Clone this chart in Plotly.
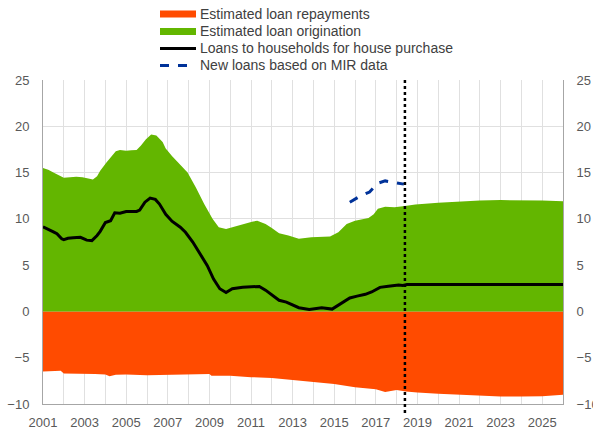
import plotly.graph_objects as go

# ---------------- data ----------------
orig_x = [2001.0, 2001.25, 2001.5, 2001.75, 2002.0, 2002.3, 2002.6, 2002.9, 2003.1, 2003.4,
          2003.6, 2003.75, 2004.05, 2004.3, 2004.5, 2004.7, 2005.0, 2005.25, 2005.5, 2005.7,
          2005.95, 2006.2, 2006.45, 2006.75, 2006.9, 2007.2, 2007.6, 2007.95, 2008.35, 2008.75,
          2009.15, 2009.45, 2009.8, 2010.1, 2010.4, 2010.75, 2011.05, 2011.3, 2011.7, 2012.0,
          2012.35, 2012.8, 2013.3, 2013.9, 2014.4, 2014.8, 2015.2, 2015.6, 2016.0, 2016.4,
          2016.65, 2016.9, 2017.1, 2017.45, 2017.9, 2018.4, 2018.9, 2020.0, 2021.0, 2022.0,
          2023.0, 2024.0, 2025.0, 2026.0]
orig_y = [15.5, 15.3, 15.0, 14.7, 14.45, 14.5, 14.55, 14.5, 14.4, 14.25,
          14.6, 15.2, 16.1, 16.8, 17.3, 17.45, 17.35, 17.4, 17.45, 17.9,
          18.6, 19.1, 19.0, 18.3, 17.6, 16.8, 15.9, 15.0, 13.4, 11.6,
          10.0, 9.1, 8.9, 9.1, 9.35, 9.55, 9.7, 9.8, 9.45, 9.0,
          8.45, 8.2, 7.85, 8.0, 8.1, 8.1, 8.55, 9.45, 9.8, 9.95,
          10.1, 10.5, 11.1, 11.3, 11.25, 11.4, 11.55, 11.75, 11.9, 11.98,
          12.03, 12.03, 11.98, 11.9]

repay_x = [2001.0, 2001.4, 2001.85, 2002.0, 2003.0, 2003.5, 2004.0, 2004.2, 2004.5, 2005.0,
           2006.0, 2007.0, 2008.0, 2009.0, 2009.1, 2010.0, 2011.0, 2012.0, 2013.0, 2014.0,
           2015.0, 2016.0, 2017.0, 2017.45, 2018.0, 2018.45, 2019.0, 2020.0, 2021.0, 2022.0,
           2023.0, 2024.0, 2025.0, 2026.0]
repay_y = [-6.5, -6.45, -6.4, -6.7, -6.7, -6.75, -6.8, -7.0, -6.85, -6.8,
           -6.9, -6.85, -6.85, -6.75, -6.95, -6.95, -7.1, -7.2, -7.4, -7.6,
           -7.85, -8.2, -8.4, -8.7, -8.5, -8.65, -8.77, -8.9, -9.0, -9.12,
           -9.18, -9.2, -9.15, -9.0]

loans_x = [2001.0, 2001.2, 2001.35, 2001.5, 2001.67, 2001.9, 2002.0, 2002.2, 2002.45, 2002.8,
           2003.0, 2003.1, 2003.35, 2003.6, 2003.75, 2004.0, 2004.25, 2004.45, 2004.7, 2005.0,
           2005.5, 2005.65, 2005.9, 2006.15, 2006.4, 2006.6, 2006.9, 2007.2, 2007.6, 2007.85,
           2008.2, 2008.5, 2008.9, 2009.2, 2009.5, 2009.8, 2010.1, 2010.6, 2011.05, 2011.4,
           2011.7, 2012.0, 2012.35, 2012.7, 2013.0, 2013.3, 2013.8, 2014.4, 2014.9, 2015.35,
           2015.75, 2016.1, 2016.5, 2016.8, 2017.2, 2017.6, 2018.1, 2018.3, 2018.5, 2026.0]
loans_y = [9.15, 8.9, 8.7, 8.6, 8.4, 7.85, 7.75, 7.9, 7.95, 8.0,
           7.8, 7.7, 7.65, 8.2, 8.65, 9.6, 9.8, 10.65, 10.6, 10.8,
           10.8, 10.95, 11.8, 12.25, 12.1, 11.6, 10.5, 9.75, 9.1, 8.55,
           7.5, 6.4, 4.95, 3.5, 2.45, 2.05, 2.45, 2.6, 2.7, 2.7,
           2.3, 1.75, 1.2, 1.0, 0.7, 0.4, 0.2, 0.4, 0.25, 0.9,
           1.45, 1.65, 1.85, 2.1, 2.6, 2.72, 2.85, 2.8, 2.9, 2.9]

mir_x = [2015.75, 2016.2, 2016.7, 2017.1, 2017.45, 2017.9, 2018.35]
mir_y = [11.8, 12.4, 12.9, 13.85, 14.1, 13.95, 13.75]

cutoff_year = 2018.4

year_ticks = list(range(2001, 2027))
year_labels = [str(y) if (y % 2 == 1 and y <= 2025) else "" for y in year_ticks]
y_ticks = [-10, -5, 0, 5, 10, 15, 20, 25]

legend_names = ["Estimated loan repayments", "Estimated loan origination",
                "Loans to households for house purchase", "New loans based on MIR data"]

# ---------------- styling ----------------
ORANGE = "#FF4B00"
GREEN = "#63B600"
BLUE = "#003299"
FONT = "Liberation Sans, Arial, sans-serif"
TICKC = "#595959"
GRID = "#e0e0e0"
AXC = "#a6a6a6"

W, H = 593, 429
ML, MR, MT, MB = 43, 30, 80, 25
PW, PH = W - ML - MR, H - MT - MB


def px_x(p):  # page pixel -> paper x
    return (p - ML) / PW


def px_y(p):  # page pixel -> paper y
    return (H - MB - p) / PH


fig = go.Figure()
fig.add_trace(go.Scatter(x=repay_x, y=repay_y, mode="lines", fill="tozeroy",
                         fillcolor=ORANGE, line=dict(width=0, color=ORANGE),
                         name=legend_names[0], showlegend=False, hoverinfo="skip"))
fig.add_trace(go.Scatter(x=orig_x, y=orig_y, mode="lines", fill="tozeroy",
                         fillcolor=GREEN, line=dict(width=0, color=GREEN),
                         name=legend_names[1], showlegend=False, hoverinfo="skip"))
fig.add_trace(go.Scatter(x=loans_x, y=loans_y, mode="lines",
                         line=dict(width=3, color="black"),
                         name=legend_names[2], showlegend=False))
fig.add_trace(go.Scatter(x=mir_x, y=mir_y, mode="lines", yaxis="y2",
                         line=dict(width=3, color=BLUE, dash="dash"),
                         name=legend_names[3], showlegend=False))

shapes = [
    dict(type="line", xref="x", yref="paper", x0=cutoff_year, x1=cutoff_year,
         y0=px_y(413), y1=1, line=dict(color="black", width=2.5, dash="dot"), layer="above"),
]

# manual legend
rows = [14, 31.5, 48.5, 65.5]
sx0, sx1, tx = 160, 196, 199
annotations = []
for i, (name, r) in enumerate(zip(legend_names, rows)):
    if i < 2:
        shapes.append(dict(type="rect", xref="paper", yref="paper",
                           x0=px_x(sx0), x1=px_x(sx1), y0=px_y(r + 3.5), y1=px_y(r - 3.5),
                           fillcolor=[ORANGE, GREEN][i], line=dict(width=0)))
    else:
        shapes.append(dict(type="line", xref="paper", yref="paper",
                           x0=px_x(sx0), x1=px_x(sx1), y0=px_y(r), y1=px_y(r),
                           line=dict(width=3, color=["black", BLUE][i - 2],
                                     dash=["solid", "dash"][i - 2])))
    annotations.append(dict(text=name, xref="paper", yref="paper", x=px_x(tx), y=px_y(r),
                            xanchor="left", yanchor="middle", showarrow=False, borderpad=0,
                            font=dict(family=FONT, size=14, color="#404040")))

yax = dict(range=[-10, 25], tickvals=y_ticks, showgrid=True, gridcolor=GRID,
           gridwidth=1, zeroline=False, showline=True, linecolor=AXC, linewidth=1,
           ticks="", ticklabelstandoff=10, automargin=False,
           tickfont=dict(family=FONT, size=13, color=TICKC), fixedrange=True)

fig.update_layout(
    width=W, height=H, margin=dict(l=ML, r=MR, t=MT, b=MB, pad=0, autoexpand=False),
    paper_bgcolor="white", plot_bgcolor="white", showlegend=False,
    xaxis=dict(range=[2001, 2026], tickvals=year_ticks, ticktext=year_labels,
               showgrid=True, gridcolor=GRID, gridwidth=1, zeroline=False,
               showline=True, linecolor=AXC, linewidth=1, ticks="", ticklabelstandoff=6,
               automargin=False, fixedrange=True,
               tickfont=dict(family=FONT, size=13, color=TICKC), tickangle=0),
    yaxis=yax,
    yaxis2=dict(yax, overlaying="y", side="right", showgrid=False),
    shapes=shapes, annotations=annotations,
)

fig.write_html("out.html", config={"displayModeBar": False},
               post_script="document.body.style.margin='0';document.body.style.overflow='hidden';")
